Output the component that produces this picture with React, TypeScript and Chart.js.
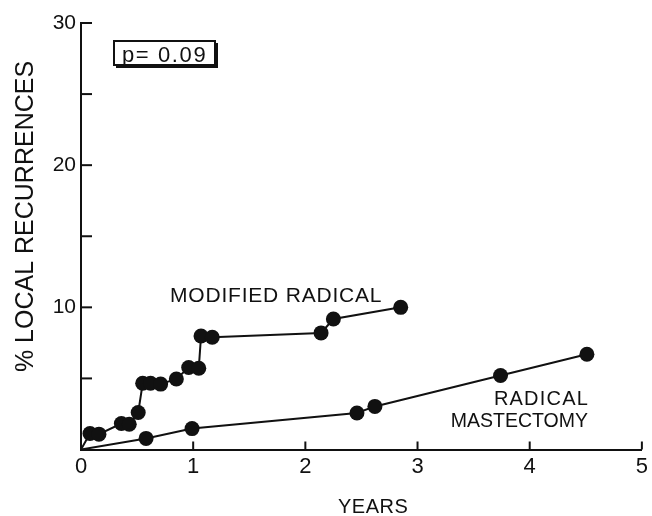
import React, { useEffect, useRef } from "react";
import { Chart, registerables } from "chart.js";

Chart.register(...registerables);

// Modified radical mastectomy
const modifiedYears = [0, 0.08, 0.16, 0.36, 0.43, 0.51, 0.55, 0.62, 0.71, 0.85, 0.96, 1.05, 1.07, 1.17, 2.14, 2.25, 2.85];
const modifiedPct = [0, 1.13, 1.08, 1.83, 1.78, 2.6, 4.66, 4.66, 4.6, 4.96, 5.77, 5.72, 7.98, 7.9, 8.2, 9.18, 10.0];

// Radical mastectomy
const radicalYears = [0, 0.58, 0.99, 2.46, 2.62, 3.74, 4.51];
const radicalPct = [0, 0.78, 1.47, 2.57, 3.03, 5.21, 6.7];

const xTicks = [0, 1, 2, 3, 4, 5];
const yTickLabels = [10, 20, 30];
const yTickMarks = [5, 10, 15, 20, 25, 30];
const xTickMarks = [1, 2, 3, 4, 5];

const FONT = "'Liberation Sans', Arial, sans-serif";
const INK = "#111";

const toPoints = (xs: number[], ys: number[]) => xs.map((x, i) => ({ x, y: ys[i] }));

const annotate = {
  id: "annotate",
  afterDraw(chart: any) {
    const { ctx, chartArea, scales } = chart;
    const xs = scales.x;
    const ys = scales.y;
    ctx.save();
    ctx.strokeStyle = INK;
    ctx.fillStyle = INK;
    ctx.lineWidth = 2;
    // inward tick marks
    yTickMarks.forEach((v) => {
      const y = ys.getPixelForValue(v);
      ctx.beginPath();
      ctx.moveTo(chartArea.left, y);
      ctx.lineTo(chartArea.left + 11, y);
      ctx.stroke();
    });
    xTickMarks.forEach((v) => {
      const x = xs.getPixelForValue(v);
      ctx.beginPath();
      ctx.moveTo(x, chartArea.bottom);
      ctx.lineTo(x, chartArea.bottom - 8);
      ctx.stroke();
    });

    const text = (s: string, x: number, y: number, size: number, spacing: number, align: CanvasTextAlign) => {
      ctx.font = `${size}px ${FONT}`;
      (ctx as any).letterSpacing = `${spacing}px`;
      ctx.textAlign = align;
      ctx.textBaseline = "alphabetic";
      ctx.fillText(s, x, y);
    };

    // y title
    ctx.save();
    ctx.translate(33, 216.5);
    ctx.rotate(-Math.PI / 2);
    text("% LOCAL RECURRENCES", 0, 0, 25, 0, "center");
    ctx.restore();

    // x title
    text("YEARS", 338, 513, 20, 0.5, "left");

    // series labels
    text("MODIFIED RADICAL", 170, 301.5, 21, 0.8, "left");
    text("RADICAL", 589, 405, 20, 1.2, "right");
    text("MASTECTOMY", 588, 427, 19.5, 0, "right");

    // p-value box with shadow
    ctx.lineWidth = 2;
    ctx.strokeRect(114, 41, 101, 24);
    ctx.fillRect(215, 43, 3, 25);
    ctx.fillRect(116, 65, 102, 3);
    text("p= 0.09", 122, 62, 22, 1.6, "left");

    ctx.restore();
  },
};

export default function App() {
  const ref = useRef<HTMLCanvasElement | null>(null);

  useEffect(() => {
    if (!ref.current) return;
    const chart = new Chart(ref.current, {
      type: "scatter",
      data: {
        datasets: [
          {
            label: "Modified radical",
            data: toPoints(modifiedYears, modifiedPct),
            showLine: true,
            borderColor: INK,
            borderWidth: 2,
            backgroundColor: INK,
            pointBackgroundColor: INK,
            pointBorderWidth: 0,
            pointRadius: (c: any) => (c.dataIndex === 0 ? 0 : 7.5),
          },
          {
            label: "Radical mastectomy",
            data: toPoints(radicalYears, radicalPct),
            showLine: true,
            borderColor: INK,
            borderWidth: 2,
            backgroundColor: INK,
            pointBackgroundColor: INK,
            pointBorderWidth: 0,
            pointRadius: (c: any) => (c.dataIndex === 0 ? 0 : 7.5),
          },
        ],
      },
      options: {
        responsive: false,
        animation: false,
        layout: { padding: { top: 23, right: 10, left: 0, bottom: 0 } },
        plugins: { legend: { display: false }, tooltip: { enabled: false } },
        scales: {
          x: {
            type: "linear",
            min: 0,
            max: 5,
            afterFit: (s: any) => {
              s.height = 66.5;
            },
            afterBuildTicks: (s: any) => {
              s.ticks = xTicks.map((v) => ({ value: v }));
            },
            ticks: {
              color: INK,
              font: { family: FONT, size: 22 },
              padding: 4,
              maxRotation: 0,
            },
            grid: { display: false, drawTicks: false },
            border: { display: true, color: INK, width: 2 },
          },
          y: {
            type: "linear",
            min: 0,
            max: 30,
            afterFit: (s: any) => {
              s.width = 81;
            },
            afterBuildTicks: (s: any) => {
              s.ticks = yTickLabels.map((v) => ({ value: v }));
            },
            ticks: {
              color: INK,
              font: { family: FONT, size: 21 },
              padding: 5,
            },
            grid: { display: false, drawTicks: false },
            border: { display: true, color: INK, width: 2 },
          },
        },
      },
      plugins: [annotate],
    });
    return () => chart.destroy();
  }, []);

  return (
    <div style={{ position: "fixed", left: 0, top: 0, width: 652, height: 516, background: "#fff" }}>
      <canvas ref={ref} width={652} height={516} style={{ display: "block" }} />
    </div>
  );
}
